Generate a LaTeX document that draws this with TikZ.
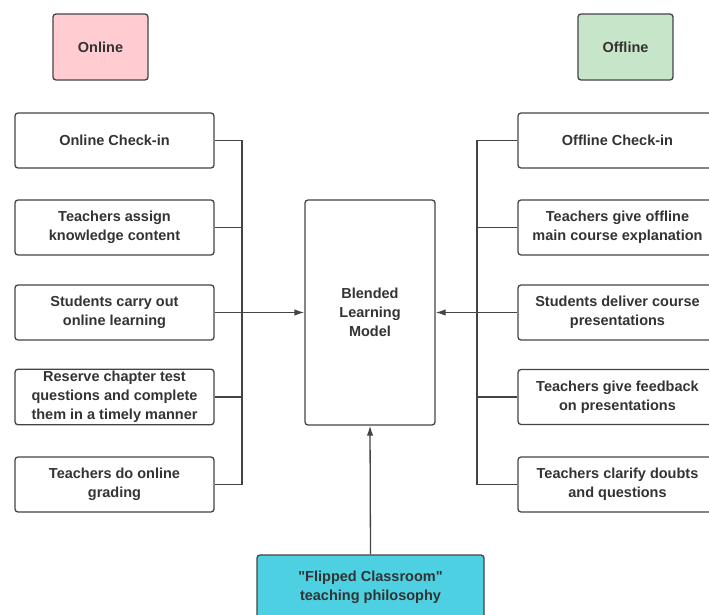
\documentclass[tikz,border=0pt]{standalone}
\usepackage{fontspec}
\setmainfont{Liberation Sans}[Ligatures=TeXOff]
\usepackage{xcolor}
\usepackage{tikz}
\usetikzlibrary{positioning,arrows.meta}

\definecolor{lineGrey}{RGB}{68,68,68}
\definecolor{textGrey}{RGB}{51,51,51}
\definecolor{onlinePink}{RGB}{255,204,210}
\definecolor{offlineGreen}{RGB}{199,230,201}
\definecolor{flipCyan}{RGB}{77,208,225}

\tikzset{
  stepbox/.style={draw=lineGrey, line width=1.3pt, rounded corners=3pt, align=center,
    minimum width=199pt, minimum height=55pt, inner sep=2pt, text=textGrey,
    font=\fontsize{14.5}{19}\selectfont\bfseries},
  tagbox/.style={stepbox, minimum width=95pt, minimum height=66pt},
  link/.style={draw=lineGrey, line width=1.3pt},
}

\begin{document}
\begin{tikzpicture}[x=1pt, y=-1pt, >={Latex[length=10pt,width=6.5pt]}]
  \clip (0,0) rectangle (709,615);
  % mode labels
  \node[tagbox, fill=onlinePink] (online) at (100.5,47) {Online};
  \node[tagbox, fill=offlineGreen] (offline) at (625.5,47) {Offline};
  % online side
  \node[stepbox] (l1) at (114.5,140.5) {Online Check-in};
  \node[stepbox] (l2) at (114.5,227.5) {Teachers assign\\knowledge content};
  \node[stepbox] (l3) at (114.5,312.5) {Students carry out\\online learning};
  \node[stepbox] (l4) at (114.5,397) {Reserve chapter test\\questions and complete\\them in a timely manner};
  \node[stepbox] (l5) at (114.5,484.5) {Teachers do online\\grading};
  % offline side
  \node[stepbox] (r1) at (617.5,140.5) {Offline Check-in};
  \node[stepbox] (r2) at (617.5,227.5) {Teachers give offline\\main course explanation};
  \node[stepbox] (r3) at (617.5,312.5) {Students deliver course\\presentations};
  \node[stepbox] (r4) at (617.5,397) {Teachers give feedback\\on presentations};
  \node[stepbox] (r5) at (617.5,484.5) {Teachers clarify doubts\\and questions};
  % centre and bottom
  \node[stepbox, minimum width=130pt, minimum height=225pt] (blm) at (370,312.5) {Blended\\Learning\\Model};
  \node[stepbox, fill=flipCyan, minimum width=227pt, minimum height=64pt] (flip) at (370.5,587) {"Flipped Classroom"\\teaching philosophy};
  \coordinate (lbus) at (242,0);
  \coordinate (rbus) at (477,0);
  % left bus
  \draw[link] (l1.east) -| (lbus |- l5.east) -- (l5.east);
  \draw[link] (l2.east) -- (lbus |- l2.east);
  \draw[link] (l4.east) -- (lbus |- l4.east);
  \draw[link, ->] (l3.east) -- (blm.west);
  % right bus
  \draw[link] (r1.west) -| (rbus |- r5.west) -- (r5.west);
  \draw[link] (r2.west) -- (rbus |- r2.west);
  \draw[link] (r4.west) -- (rbus |- r4.west);
  \draw[link, ->] (r3.west) -- (blm.east);
  % philosophy
  \draw[link, ->] (flip.north) -- (blm.south);
\end{tikzpicture}
\end{document}
